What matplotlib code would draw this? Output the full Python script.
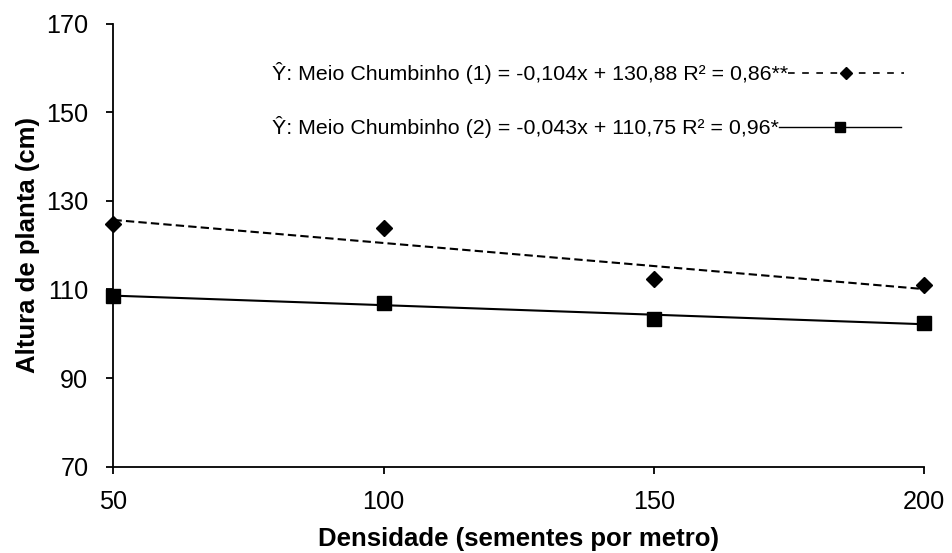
import matplotlib.pyplot as plt
from matplotlib.lines import Line2D

plt.rcParams['font.family'] = ['Liberation Sans', 'DejaVu Sans']

# data
densidade = [50, 100, 150, 200]
altura_1 = [124.7, 123.8, 112.3, 111.0]   # Meio Chumbinho (1)
altura_2 = [108.5, 106.9, 103.4, 102.4]   # Meio Chumbinho (2)

# trend lines as stated in the chart: (slope, intercept)
coef_1 = (-0.104, 130.88)
coef_2 = (-0.043, 110.75)

label_1 = 'Ŷ: Meio Chumbinho (1) = -0,104x + 130,88 R² = 0,86**'
label_2 = 'Ŷ: Meio Chumbinho (2) = -0,043x + 110,75 R² = 0,96*'

x_ticks = [50, 100, 150, 200]
y_ticks = [70, 90, 110, 130, 150, 170]

fig = plt.figure(figsize=(9.52, 5.53), dpi=100)
ax = fig.add_axes([0.1192, 0.156, 0.8514, 0.8015])

x_ends = [densidade[0], densidade[-1]]
ax.plot(x_ends, [coef_1[0] * x + coef_1[1] for x in x_ends], color='black',
        lw=1.5, dashes=(4, 2), zorder=2)
ax.plot(x_ends, [coef_2[0] * x + coef_2[1] for x in x_ends], color='black',
        lw=1.5, zorder=2)

ax.plot(densidade, altura_1, ls='none', marker='D', ms=8.2, color='black',
        clip_on=False, zorder=3)
ax.plot(densidade, altura_2, ls='none', marker='s', ms=10.5, color='black',
        clip_on=False, zorder=3)

ax.set_xlim(50, 200)
ax.set_ylim(70, 170)
ax.set_xticks(x_ticks)
ax.set_yticks(y_ticks)
ax.tick_params(direction='out', length=5, width=1.3, labelsize=18.2)
ax.tick_params(axis='x', pad=12)
ax.tick_params(axis='y', pad=13)

for side in ['top', 'right']:
    ax.spines[side].set_visible(False)
for side in ['left', 'bottom']:
    ax.spines[side].set_linewidth(1.3)

ax.set_xlabel('Densidade (sementes por metro)', fontsize=18.5, fontweight='bold', labelpad=9)
ax.set_ylabel('Altura de planta (cm)', fontsize=18.5, fontweight='bold', labelpad=4.5)

# two separate legend rows so each line starts right after its own text
h1 = Line2D([], [], color='black', lw=1.2, dashes=(4, 4.5), marker='D', ms=6)
h2 = Line2D([], [], color='black', lw=1.0, marker='s', ms=7.5)
leg1 = fig.legend([h1], [label_1], loc='upper left', bbox_to_anchor=(0.2857, 0.8876),
                  frameon=False, markerfirst=False, fontsize=15.4,
                  handlelength=5.4, handletextpad=0.0, borderpad=0, borderaxespad=0)
leg2 = fig.legend([h2], [label_2], loc='upper left', bbox_to_anchor=(0.2857, 0.7896),
                  frameon=False, markerfirst=False, fontsize=15.4,
                  handlelength=5.7, handletextpad=0.0, borderpad=0, borderaxespad=0)

fig.savefig('out.png', dpi=100)
